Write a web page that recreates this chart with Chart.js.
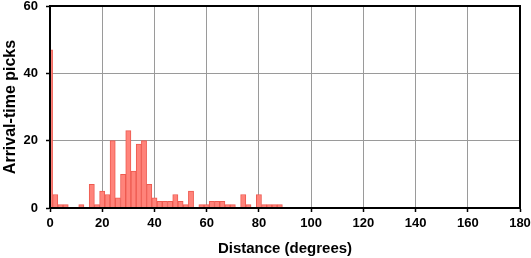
<!DOCTYPE html>
<html>
<head>
<meta charset="utf-8">
<script src="https://cdn.jsdelivr.net/npm/chart.js@4/dist/chart.umd.min.js"></script>
<style>
html,body{margin:0;padding:0;background:#fff;}
#wrap{width:531px;height:258px;position:relative;}
</style>
</head>
<body>
<div id="wrap"><canvas id="c" width="531" height="258"></canvas></div>
<script>
// Bin centres (degrees, 2-degree bins) and pick counts
const binCenters = [0,2,4,6,12,16,18,20,22,24,26,28,30,32,34,36,38,40,42,44,46,48,50,52,54,58,60,62,64,66,68,70,74,76,80,82,84,86,88];
const pickCounts = [47,4,1,1,1,7,1,5,4,20,3,10,23,11,19,20,7,3,2,2,2,4,2,1,5,1,1,2,2,2,1,1,4,1,4,1,1,1,1];
const xTicks = [0,20,40,60,80,100,120,140,160,180];
const yTicks = [0,20,40,60];

const FONT = "'Liberation Sans', Arial, Helvetica, sans-serif";

const framePlugin = {
  id: 'frame',
  afterDatasetsDraw(chart) {
    const {ctx, chartArea: a} = chart;
    ctx.save();
    ctx.strokeStyle = '#000';
    ctx.lineWidth = 2;
    ctx.strokeRect(a.left, a.top, a.right - a.left, a.bottom - a.top);
    ctx.restore();
  }
};

new Chart(document.getElementById('c'), {
  type: 'bar',
  data: {
    datasets: [{
      data: binCenters.map((x, i) => ({x: x, y: pickCounts[i]})),
      backgroundColor: '#FF837A',
      borderColor: '#EE5A50',
      borderWidth: 1,
      borderSkipped: 'start',
      barPercentage: 1,
      categoryPercentage: 1,
      clip: 0
    }]
  },
  plugins: [framePlugin],
  options: {
    responsive: false,
    animation: false,
    layout: {padding: {left: 0, right: 11, top: 6, bottom: 0}},
    plugins: {legend: {display: false}, tooltip: {enabled: false}},
    scales: {
      x: {
        type: 'linear',
        offset: false,
        min: 0, max: 180,
        afterBuildTicks(s) { s.ticks = xTicks.map(v => ({value: v})); },
        afterFit(s) { s.height = 50; s.paddingLeft = 0; s.paddingRight = 0; },
        grid: {color: '#9a9a9a', lineWidth: 1, offset: false, tickLength: 4, tickColor: '#000', tickWidth: 1.5},
        border: {display: true, color: '#000', width: 2},
        ticks: {color: '#000', padding: 4, maxRotation: 0, autoSkip: false, font: {family: FONT, size: 13, weight: 'bold'}},
        title: {display: true, text: 'Distance (degrees)', color: '#000', padding: {top: 0, bottom: 0}, font: {family: FONT, size: 15, weight: 'bold'}}
      },
      y: {
        min: 0, max: 60,
        afterBuildTicks(s) { s.ticks = yTicks.map(v => ({value: v})); },
        afterFit(s) { s.width = 50; s.paddingTop = 0; s.paddingBottom = 0; },
        grid: {color: '#9a9a9a', lineWidth: 1, tickLength: 4, tickColor: '#000', tickWidth: 1.5},
        border: {display: true, color: '#000', width: 2},
        ticks: {color: '#000', padding: 8, font: {family: FONT, size: 13, weight: 'bold'}},
        title: {display: true, text: 'Arrival-time picks', color: '#000', padding: {top: 1, bottom: 0}, font: {family: FONT, size: 16, weight: 'bold'}}
      }
    }
  }
});
</script>
</body>
</html>
